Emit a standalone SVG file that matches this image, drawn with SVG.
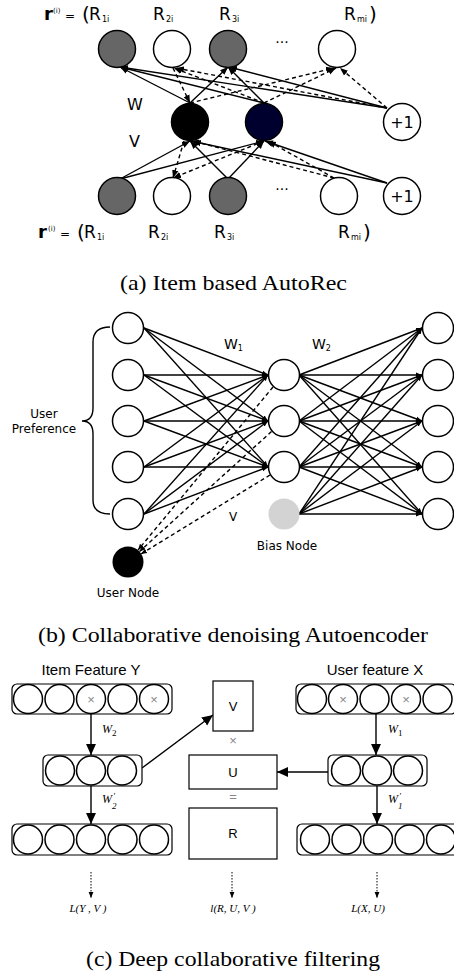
<svg xmlns="http://www.w3.org/2000/svg" width="454" height="973" viewBox="0 0 454 973">
<style>
.e{stroke:#000;stroke-width:1.4;fill:none}
.d{stroke-dasharray:4,3}
.dt{stroke-dasharray:1.5,1.5;stroke-width:1}
.n{fill:#fff;stroke:#000;stroke-width:1.5}
.g{fill:#666;stroke:#000;stroke-width:1.5}
.sa{font-family:"DejaVu Sans",Verdana,sans-serif;fill:#000}
.la{font-family:"Liberation Sans",Arial,sans-serif;fill:#000}
.cap{font-family:"Liberation Serif","Times New Roman",serif;font-size:21px;fill:#000}
.it{font-family:"Liberation Serif","Times New Roman",serif;font-style:italic;fill:#000}
.x{font-family:"Liberation Sans",Arial,sans-serif;fill:#888;font-size:13px}
.r{fill:#fff;stroke:#000;stroke-width:1.2}
</style>
<defs>
<marker id="ah" viewBox="0 0 10 10" refX="10" refY="5" markerWidth="8" markerHeight="8" orient="auto" markerUnits="userSpaceOnUse"><path d="M0,1 L10,5 L0,9 z" fill="#000"/></marker>
<marker id="ahs" viewBox="0 0 10 10" refX="10" refY="5" markerWidth="6" markerHeight="6" orient="auto" markerUnits="userSpaceOnUse"><path d="M0,1 L10,5 L0,9 z" fill="#000"/></marker>
<marker id="ahb" viewBox="0 0 10 10" refX="10" refY="5" markerWidth="11" markerHeight="11" orient="auto" markerUnits="userSpaceOnUse"><path d="M0,0.5 L10,5 L0,9.5 z" fill="#000"/></marker>
</defs>

<!-- (a) Item based AutoRec -->
<g id="a-connectors">
<g class="e" marker-end="url(#ah)">
<line x1="190" y1="103" x2="120" y2="67"/>
<line x1="190" y1="103" x2="228" y2="67"/>
<line x1="264" y1="103" x2="120" y2="67"/>
<line x1="264" y1="103" x2="228" y2="67"/>
<line x1="387" y1="108" x2="120" y2="67"/>
<line x1="387" y1="108" x2="229" y2="67"/>
</g>
<g class="e d" marker-end="url(#ah)">
<line x1="173" y1="68" x2="190" y2="103"/>
<line x1="190" y1="103" x2="334" y2="68"/>
<line x1="264" y1="103" x2="174" y2="68"/>
<line x1="264" y1="103" x2="336" y2="68"/>
<line x1="387" y1="108" x2="176" y2="68"/>
<line x1="387" y1="108" x2="340" y2="68"/>
</g>
<g class="e" marker-end="url(#ah)">
<line x1="120" y1="179" x2="190" y2="141"/>
<line x1="120" y1="179" x2="264" y2="141"/>
<line x1="228" y1="179" x2="190" y2="141"/>
<line x1="228" y1="179" x2="264" y2="141"/>
<line x1="387" y1="183" x2="191" y2="141"/>
<line x1="387" y1="183" x2="265" y2="141"/>
</g>
<g class="e d" marker-end="url(#ah)">
<line x1="184" y1="141" x2="173" y2="178"/>
<line x1="264" y1="141" x2="173" y2="178"/>
<line x1="334" y1="178" x2="193" y2="141"/>
<line x1="334" y1="178" x2="268" y2="141"/>
</g>
</g>
<g id="a-top-1"><circle class="g" cx="117" cy="49" r="18.5"/></g>
<g id="a-top-2"><circle class="n" cx="172" cy="49" r="18.5"/></g>
<g id="a-top-3"><circle class="g" cx="228" cy="49" r="18.5"/></g>
<g id="a-top-m"><circle class="n" cx="337" cy="49" r="18.5"/></g>
<g id="a-hid-1"><circle cx="190" cy="122" r="18.5" fill="#000" stroke="#000" stroke-width="1.5"/></g>
<g id="a-hid-2"><circle cx="264" cy="122" r="18.5" fill="#00002e" stroke="#000" stroke-width="1.5"/></g>
<g id="a-bias-1"><circle class="n" cx="402" cy="122" r="18.5"/><text class="sa" x="402" y="128" font-size="16" text-anchor="middle">+1</text></g>
<g id="a-bot-1"><circle class="g" cx="117" cy="196" r="18.5"/></g>
<g id="a-bot-2"><circle class="n" cx="172" cy="196" r="18.5"/></g>
<g id="a-bot-3"><circle class="g" cx="228" cy="196" r="18.5"/></g>
<g id="a-bot-m"><circle class="n" cx="339" cy="196" r="18.5"/></g>
<g id="a-bias-2"><circle class="n" cx="402" cy="196" r="18.5"/><text class="sa" x="402" y="202" font-size="16" text-anchor="middle">+1</text></g>
<g id="a-labels" class="sa">
<text x="282" y="47" font-size="14" text-anchor="middle">···</text>
<text x="282" y="194" font-size="14" text-anchor="middle">···</text>
<text x="127" y="110" font-size="16">W</text>
<text x="129" y="147" font-size="16">V</text>
<text x="44" y="20" font-size="18" font-weight="bold">r</text>
<text x="53" y="13" font-size="7">(i)</text>
<text x="65" y="20" font-size="12">=</text>
<text x="82" y="21" font-size="20">(</text>
<text x="89" y="20" font-size="17">R</text><text x="102" y="22" font-size="8">1i</text>
<text x="153" y="20" font-size="17">R</text><text x="166" y="22" font-size="8">2i</text>
<text x="219" y="20" font-size="17">R</text><text x="232" y="22" font-size="8">3i</text>
<text x="344" y="20" font-size="17">R</text><text x="357" y="22" font-size="8">mi</text><text x="369" y="21" font-size="20">)</text>
<text x="38" y="238" font-size="18" font-weight="bold">r</text>
<text x="48" y="231" font-size="7">(i)</text>
<text x="60" y="238" font-size="12">=</text>
<text x="77" y="239" font-size="20">(</text>
<text x="84" y="238" font-size="17">R</text><text x="97" y="240" font-size="8">1i</text>
<text x="148" y="238" font-size="17">R</text><text x="161" y="240" font-size="8">2i</text>
<text x="214" y="238" font-size="17">R</text><text x="227" y="240" font-size="8">3i</text>
<text x="338" y="238" font-size="17">R</text><text x="351" y="240" font-size="8">mi</text><text x="363" y="239" font-size="20">)</text>
</g>
<text class="cap" x="120" y="290" textLength="227" lengthAdjust="spacingAndGlyphs">(a) Item based AutoRec</text>

<!-- (b) Collaborative denoising Autoencoder -->
<g id="b-connectors">
<g class="e" stroke-width="1.3" marker-end="url(#ahs)">
<line x1="144" y1="328" x2="268" y2="375"/><line x1="144" y1="328" x2="268" y2="421"/><line x1="144" y1="328" x2="268" y2="467"/>
<line x1="144" y1="375" x2="268" y2="375"/><line x1="144" y1="375" x2="268" y2="421"/><line x1="144" y1="375" x2="268" y2="467"/>
<line x1="144" y1="421" x2="268" y2="375"/><line x1="144" y1="421" x2="268" y2="421"/><line x1="144" y1="421" x2="268" y2="467"/>
<line x1="144" y1="467" x2="268" y2="375"/><line x1="144" y1="467" x2="268" y2="421"/><line x1="144" y1="467" x2="268" y2="467"/>
<line x1="144" y1="514" x2="268" y2="375"/><line x1="144" y1="514" x2="268" y2="421"/><line x1="144" y1="514" x2="268" y2="467"/>
<line x1="299" y1="375" x2="422" y2="328"/><line x1="299" y1="375" x2="422" y2="375"/><line x1="299" y1="375" x2="422" y2="421"/><line x1="299" y1="375" x2="422" y2="467"/><line x1="299" y1="375" x2="422" y2="514"/>
<line x1="299" y1="421" x2="422" y2="328"/><line x1="299" y1="421" x2="422" y2="375"/><line x1="299" y1="421" x2="422" y2="421"/><line x1="299" y1="421" x2="422" y2="467"/><line x1="299" y1="421" x2="422" y2="514"/>
<line x1="299" y1="467" x2="422" y2="328"/><line x1="299" y1="467" x2="422" y2="375"/><line x1="299" y1="467" x2="422" y2="421"/><line x1="299" y1="467" x2="422" y2="467"/><line x1="299" y1="467" x2="422" y2="514"/>
<line x1="299" y1="514" x2="422" y2="328"/><line x1="299" y1="514" x2="422" y2="375"/><line x1="299" y1="514" x2="422" y2="421"/><line x1="299" y1="514" x2="422" y2="467"/><line x1="299" y1="514" x2="422" y2="514"/>
</g>
<g class="e d" stroke-width="1.3" marker-end="url(#ahs)" marker-start="url(#ahs)">
<line x1="273" y1="387" x2="138" y2="550"/>
<line x1="271.5" y1="431.5" x2="139.5" y2="551.5"/>
<line x1="270" y1="475" x2="141" y2="554"/>
</g>
<path class="e" stroke-width="1.3" d="M110,327 Q93,327 93,342 L93,408 Q93,421 82,421 Q93,421 93,434 L93,500 Q93,514 110,514"/>
</g>
<g id="b-in-1"><circle class="n" cx="128" cy="328" r="15.5"/></g>
<g id="b-in-2"><circle class="n" cx="128" cy="375" r="15.5"/></g>
<g id="b-in-3"><circle class="n" cx="128" cy="421" r="15.5"/></g>
<g id="b-in-4"><circle class="n" cx="128" cy="467" r="15.5"/></g>
<g id="b-in-5"><circle class="n" cx="128" cy="514" r="15.5"/></g>
<g id="b-hid-1"><circle class="n" cx="284" cy="375" r="15.5"/></g>
<g id="b-hid-2"><circle class="n" cx="284" cy="421" r="15.5"/></g>
<g id="b-hid-3"><circle class="n" cx="284" cy="467" r="15.5"/></g>
<g id="b-bias"><circle cx="284" cy="514" r="15.5" fill="#d3d3d3"/></g>
<g id="b-user"><circle cx="128" cy="562" r="15.5" fill="#000"/></g>
<g id="b-out-1"><circle class="n" cx="438" cy="328" r="15.5"/></g>
<g id="b-out-2"><circle class="n" cx="438" cy="375" r="15.5"/></g>
<g id="b-out-3"><circle class="n" cx="438" cy="421" r="15.5"/></g>
<g id="b-out-4"><circle class="n" cx="438" cy="467" r="15.5"/></g>
<g id="b-out-5"><circle class="n" cx="438" cy="514" r="15.5"/></g>
<g id="b-labels" class="sa" font-size="12">
<text x="44" y="418" text-anchor="middle">User</text>
<text x="44" y="433" text-anchor="middle">Preference</text>
<text x="128" y="597" text-anchor="middle">User Node</text>
<text x="287" y="550" text-anchor="middle">Bias Node</text>
<text x="233" y="521" text-anchor="middle">V</text>
<text x="224" y="349" font-size="14">W<tspan font-size="8" dy="2">1</tspan></text>
<text x="312" y="349" font-size="14">W<tspan font-size="8" dy="2">2</tspan></text>
</g>
<text class="cap" x="38" y="642" textLength="390" lengthAdjust="spacingAndGlyphs">(b) Collaborative denoising Autoencoder</text>

<!-- (c) Deep collaborative filtering -->
<g id="c-connectors">
<g class="e" stroke-width="1.3" marker-end="url(#ahb)">
<line x1="91" y1="714" x2="91" y2="755"/>
<line x1="376" y1="714" x2="376" y2="755"/>
<line x1="91" y1="786" x2="91" y2="824"/>
<line x1="377" y1="786" x2="377" y2="824"/>
<line x1="142" y1="768" x2="213" y2="715"/>
<line x1="328" y1="772" x2="277" y2="772"/>
</g>
<g class="e dt" marker-end="url(#ahs)">
<line x1="91" y1="872" x2="91" y2="898"/>
<line x1="232" y1="872" x2="232" y2="898"/>
<line x1="377" y1="872" x2="377" y2="898"/>
</g>
</g>
<g id="c-item-in">
<rect class="r" x="12" y="684" width="160" height="30" rx="5"/>
<circle class="n" cx="28" cy="699" r="14.5" stroke-width="1.2"/><circle class="n" cx="59.5" cy="699" r="14.5" stroke-width="1.2"/><circle class="n" cx="91" cy="699" r="14.5" stroke-width="1.2"/><circle class="n" cx="122.5" cy="699" r="14.5" stroke-width="1.2"/><circle class="n" cx="154" cy="699" r="14.5" stroke-width="1.2"/>
<text class="x" x="91" y="703.5" text-anchor="middle">×</text><text class="x" x="154" y="703.5" text-anchor="middle">×</text>
</g>
<g id="c-item-hid">
<rect class="r" x="43" y="755" width="99" height="31" rx="5"/>
<circle class="n" cx="60" cy="770.5" r="14.5" stroke-width="1.2"/><circle class="n" cx="91" cy="770.5" r="14.5" stroke-width="1.2"/><circle class="n" cx="122" cy="770.5" r="14.5" stroke-width="1.2"/>
</g>
<g id="c-item-out">
<rect class="r" x="12" y="824" width="160" height="31" rx="5"/>
<circle class="n" cx="28" cy="839.5" r="14.5" stroke-width="1.2"/><circle class="n" cx="59.5" cy="839.5" r="14.5" stroke-width="1.2"/><circle class="n" cx="91" cy="839.5" r="14.5" stroke-width="1.2"/><circle class="n" cx="122.5" cy="839.5" r="14.5" stroke-width="1.2"/><circle class="n" cx="154" cy="839.5" r="14.5" stroke-width="1.2"/>
</g>
<g id="c-user-in">
<rect class="r" x="296" y="684" width="160" height="30" rx="5"/>
<circle class="n" cx="312" cy="699" r="14.5" stroke-width="1.2"/><circle class="n" cx="343" cy="699" r="14.5" stroke-width="1.2"/><circle class="n" cx="374.5" cy="699" r="14.5" stroke-width="1.2"/><circle class="n" cx="406" cy="699" r="14.5" stroke-width="1.2"/><circle class="n" cx="437.5" cy="699" r="14.5" stroke-width="1.2"/>
<text class="x" x="343" y="703.5" text-anchor="middle">×</text><text class="x" x="406" y="703.5" text-anchor="middle">×</text>
</g>
<g id="c-user-hid">
<rect class="r" x="328" y="755" width="99" height="31" rx="5"/>
<circle class="n" cx="346" cy="770.5" r="14.5" stroke-width="1.2"/><circle class="n" cx="377" cy="770.5" r="14.5" stroke-width="1.2"/><circle class="n" cx="408" cy="770.5" r="14.5" stroke-width="1.2"/>
</g>
<g id="c-user-out">
<rect class="r" x="297" y="824" width="162" height="31" rx="5"/>
<circle class="n" cx="315" cy="839.5" r="14.5" stroke-width="1.2"/><circle class="n" cx="346.5" cy="839.5" r="14.5" stroke-width="1.2"/><circle class="n" cx="378" cy="839.5" r="14.5" stroke-width="1.2"/><circle class="n" cx="409.5" cy="839.5" r="14.5" stroke-width="1.2"/><circle class="n" cx="441" cy="839.5" r="14.5" stroke-width="1.2"/>
</g>
<g id="c-V"><rect class="r" x="213" y="681" width="40" height="50"/><text class="la" x="233" y="711" font-size="13" text-anchor="middle">V</text></g>
<g id="c-U"><rect class="r" x="189" y="755" width="88" height="34"/><text class="la" x="233" y="777" font-size="13" text-anchor="middle">U</text></g>
<g id="c-R"><rect class="r" x="189" y="808" width="88" height="51"/><text class="la" x="233" y="838" font-size="13" text-anchor="middle">R</text></g>
<g id="c-labels">
<text class="la" x="91" y="675" font-size="15" text-anchor="middle">Item Feature Y</text>
<text class="la" x="375" y="675" font-size="15" text-anchor="middle">User feature X</text>
<text class="x" x="233" y="745" font-size="9" text-anchor="middle">×</text>
<text class="x" x="233" y="801" font-size="11" text-anchor="middle">=</text>
<text class="it" x="102" y="733" font-size="12">W<tspan font-size="9" font-style="normal" dy="3">2</tspan></text>
<text class="it" x="388" y="733" font-size="12">W<tspan font-size="9" font-style="normal" dy="3">1</tspan></text>
<text class="it" x="102" y="803" font-size="12">W</text>
<text class="it" x="113" y="799" font-size="9">'</text>
<text class="it" x="112" y="809" font-size="9" font-style="normal">2</text>
<text class="it" x="388" y="803" font-size="12">W</text>
<text class="it" x="399" y="799" font-size="9">'</text>
<text class="it" x="398" y="809" font-size="9" font-style="normal">1</text>
<text class="it" x="88" y="912" font-size="11" text-anchor="middle">L(Y , V )</text>
<text class="it" x="233" y="912" font-size="11" text-anchor="middle">l(R, U, V )</text>
<text class="it" x="368" y="912" font-size="11" text-anchor="middle">L(X, U)</text>
</g>
<text class="cap" x="86" y="966" textLength="294" lengthAdjust="spacingAndGlyphs">(c) Deep collaborative filtering</text>
</svg>
